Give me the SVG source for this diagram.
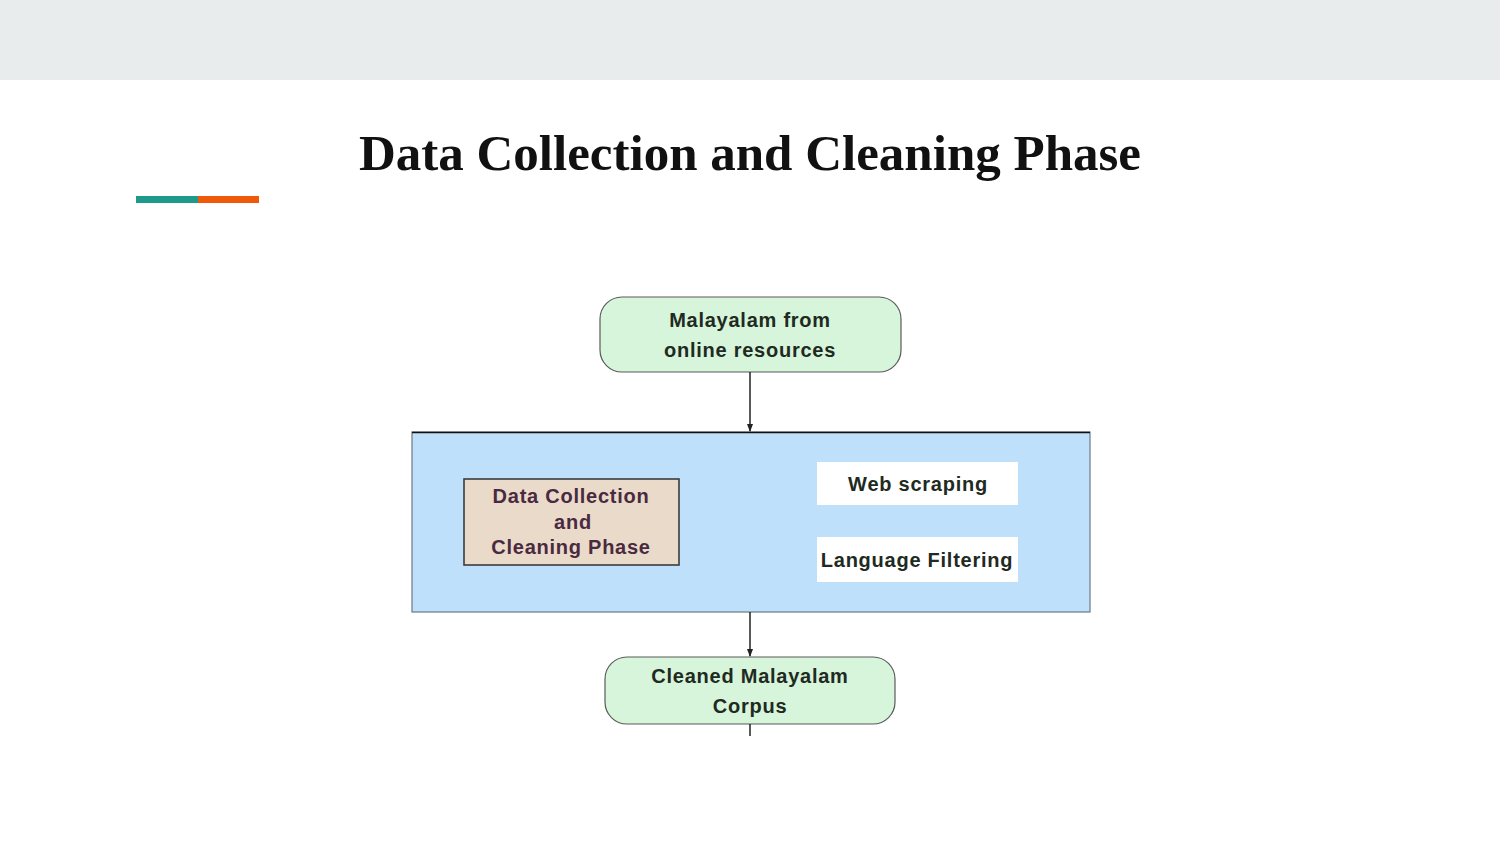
<svg xmlns="http://www.w3.org/2000/svg" width="1500" height="844" viewBox="0 0 1500 844">
<defs>
<style>
.t{font-family:"Liberation Sans",Arial,sans-serif;font-weight:bold;font-size:20px;letter-spacing:0.75px;fill:#1f2a22;text-anchor:middle}
.tan{fill:#4a2a40}
.cap{fill:#d6f5da;stroke:#5a5a5a;stroke-width:1.2}
.w{fill:#ffffff}
.c{stroke:#222;stroke-width:1.5;fill:none}
</style>
<marker id="ah" markerWidth="8" markerHeight="8" refX="7" refY="4" orient="auto" markerUnits="userSpaceOnUse">
<path d="M0,1 L8,4 L0,7 Z" fill="#222"/>
</marker>
</defs>
<rect x="0" y="0" width="1500" height="844" fill="#ffffff"/>
<rect x="0" y="0" width="1500" height="80" fill="#e8eced"/>
<text x="750" y="170" text-anchor="middle" font-family="Liberation Serif,'Times New Roman',serif" font-weight="bold" font-size="51" fill="#111">Data Collection and Cleaning Phase</text>
<rect x="136" y="196" width="62" height="7" fill="#1e9a8a"/>
<rect x="198" y="196" width="61" height="7" fill="#ee5a0a"/>

<g id="container">
<rect x="412" y="432" width="678" height="180" fill="#bfe0fb" stroke="#6a7a86" stroke-width="1.2"/>
<line x1="412" y1="432.5" x2="1090" y2="432.5" stroke="#111" stroke-width="1.5"/>
</g>
<g id="source">
<rect class="cap" x="600" y="297" width="301" height="75" rx="22"/>
<text class="t" x="750" y="327">Malayalam from</text>
<text class="t" x="750" y="357">online resources</text>
</g>
<g id="phase">
<rect x="464" y="479" width="215" height="86" fill="#e9dac9" stroke="#3c3c3c" stroke-width="1.6"/>
<text class="t tan" x="571" y="503">Data Collection</text>
<text class="t tan" x="573" y="529">and</text>
<text class="t tan" x="571" y="554">Cleaning Phase</text>
</g>
<g id="web">
<rect class="w" x="817" y="462" width="201" height="43"/>
<text class="t" x="918" y="491">Web scraping</text>
</g>
<g id="lang">
<rect class="w" x="817" y="537" width="201" height="45"/>
<text class="t" x="917" y="567">Language Filtering</text>
</g>
<g id="corpus">
<rect class="cap" x="605" y="657" width="290" height="67" rx="22"/>
<text class="t" x="750" y="683">Cleaned Malayalam</text>
<text class="t" x="750" y="713">Corpus</text>
</g>
<g id="connectors">
<line class="c" x1="750" y1="372" x2="750" y2="431" marker-end="url(#ah)"/>
<line class="c" x1="750" y1="612" x2="750" y2="656" marker-end="url(#ah)"/>
<line class="c" x1="750" y1="724" x2="750" y2="736"/>
</g>
</svg>
